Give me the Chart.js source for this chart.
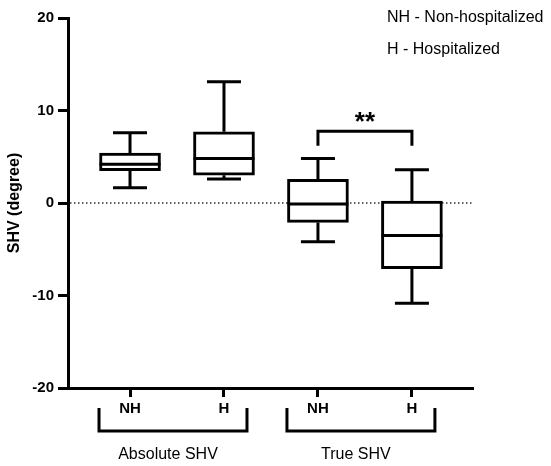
<!DOCTYPE html>
<html>
<head>
<meta charset="utf-8">
<script src="https://cdn.jsdelivr.net/npm/chart.js@4"></script>
<style>
  body { margin: 0; background: #fff; }
  #wrap { width: 551px; height: 466px; }
</style>
</head>
<body>
<div id="wrap"><canvas id="chart" width="551" height="466"></canvas></div>
<script>
// datos
const categories = ['NH', 'H', 'NH', 'H'];
const whiskerLow = [1.65, 2.6, -4.2, -10.85];
const q1 = [3.5, 3.0, -2.1, -7.1];
const medians = [4.2, 4.8, -0.1, -3.5];
const q3 = [5.4, 7.7, 2.55, 0.2];
const whiskerHigh = [7.6, 13.1, 4.8, 3.6];

const groupNames = ['Absolute SHV', 'True SHV'];
const groupStart = [0, 2];
const groupEnd = [1, 3];

const yTicks = [-20, -10, 0, 10, 20];

const sigPair = [2, 3];
const sigLabel = '**';
const sigTop = 7.75;
const sigDrop = 6.2;

const legendLines = ['NH - Non-hospitalized', 'H - Hospitalized'];

const FONT = "'Liberation Sans', Arial, sans-serif";

const boxData = categories.map((c, i) => ({ x: i, y: [q1[i], q3[i]] }));

// linea punteada en cero
const zeroLine = {
  id: 'zeroLine',
  beforeDatasetsDraw(chart) {
    const ctx = chart.ctx;
    const y = chart.scales.y.getPixelForValue(0);
    const area = chart.chartArea;
    ctx.save();
    ctx.strokeStyle = '#333';
    ctx.lineWidth = 1.5;
    ctx.setLineDash([1.5, 2.5]);
    ctx.beginPath();
    ctx.moveTo(area.left + 2, y);
    ctx.lineTo(area.right, y);
    ctx.stroke();
    ctx.restore();
  }
};

// bigotes y medianas
const whiskers = {
  id: 'whiskers',
  afterDatasetsDraw(chart) {
    const ctx = chart.ctx;
    const xs = chart.scales.x;
    const ys = chart.scales.y;
    const bars = chart.getDatasetMeta(0).data;
    ctx.save();
    ctx.strokeStyle = '#000';
    ctx.lineWidth = 3;
    ctx.lineCap = 'butt';
    categories.forEach((c, i) => {
      const cx = xs.getPixelForValue(i);
      const half = bars[i].width / 2;
      const cap = 17;
      const yHi = ys.getPixelForValue(whiskerHigh[i]);
      const yLo = ys.getPixelForValue(whiskerLow[i]);
      const yQ3 = ys.getPixelForValue(q3[i]);
      const yQ1 = ys.getPixelForValue(q1[i]);
      const yMed = ys.getPixelForValue(medians[i]);
      ctx.beginPath();
      ctx.moveTo(cx, yQ3); ctx.lineTo(cx, yHi);
      ctx.moveTo(cx - cap, yHi); ctx.lineTo(cx + cap, yHi);
      ctx.moveTo(cx, yQ1); ctx.lineTo(cx, yLo);
      ctx.moveTo(cx - cap, yLo); ctx.lineTo(cx + cap, yLo);
      ctx.moveTo(cx - half, yMed); ctx.lineTo(cx + half, yMed);
      ctx.stroke();
    });

    // corchete de significancia
    const x1 = xs.getPixelForValue(sigPair[0]);
    const x2 = xs.getPixelForValue(sigPair[1]);
    const yt = ys.getPixelForValue(sigTop);
    const yd = ys.getPixelForValue(sigDrop);
    ctx.beginPath();
    ctx.moveTo(x1, yd); ctx.lineTo(x1, yt); ctx.lineTo(x2, yt); ctx.lineTo(x2, yd);
    ctx.stroke();
    ctx.fillStyle = '#000';
    ctx.font = 'bold 26px ' + FONT;
    ctx.textAlign = 'center';
    ctx.textBaseline = 'alphabetic';
    ctx.fillText(sigLabel, (x1 + x2) / 2, yt - 1);
    ctx.restore();
  }
};

// grupos bajo el eje x y leyenda de texto
const groupsAndNotes = {
  id: 'groupsAndNotes',
  afterDraw(chart) {
    const ctx = chart.ctx;
    const xs = chart.scales.x;
    ctx.save();
    ctx.strokeStyle = '#000';
    ctx.fillStyle = '#000';
    ctx.lineWidth = 3;
    groupNames.forEach((name, g) => {
      const left = xs.getPixelForValue(groupStart[g]) - 31;
      const right = xs.getPixelForValue(groupEnd[g]) + 23;
      ctx.beginPath();
      ctx.moveTo(left, 408); ctx.lineTo(left, 431);
      ctx.lineTo(right, 431); ctx.lineTo(right, 408);
      ctx.stroke();
      ctx.font = '16px ' + FONT;
      ctx.textAlign = 'center';
      ctx.textBaseline = 'middle';
      ctx.fillText(name, (left + right) / 2 - 5, 455);
    });
    ctx.font = '16px ' + FONT;
    ctx.textAlign = 'left';
    ctx.textBaseline = 'middle';
    legendLines.forEach((t, k) => {
      ctx.fillText(t, 387, 18 + k * 32);
    });
    ctx.restore();
  }
};

new Chart(document.getElementById('chart').getContext('2d'), {
  type: 'bar',
  data: {
    datasets: [{
      data: boxData,
      backgroundColor: '#fff',
      borderColor: '#000',
      borderWidth: 3,
      borderSkipped: false,
      barThickness: 61
    }]
  },
  options: {
    responsive: false,
    animation: false,
    layout: { padding: { top: 18, right: 78, left: 0, bottom: 0 } },
    plugins: {
      legend: { display: false },
      tooltip: { enabled: false }
    },
    scales: {
      x: {
        type: 'linear',
        offset: false,
        min: -0.66,
        max: 3.65,
        afterBuildTicks: (scale) => {
          scale.ticks = categories.map((c, i) => ({ value: i }));
        },
        afterFit: (scale) => { scale.height = 78; },
        ticks: {
          callback: (v) => categories[v],
          font: { family: FONT, size: 15, weight: 'bold' },
          color: '#000',
          padding: 3,
          maxRotation: 0,
          autoSkip: false
        },
        grid: {
          offset: false,
          drawOnChartArea: false,
          drawTicks: true,
          tickLength: 9,
          tickWidth: 3,
          tickColor: '#000'
        },
        border: { display: true, color: '#000', width: 3 }
      },
      y: {
        min: -20,
        max: 20,
        afterBuildTicks: (scale) => {
          scale.ticks = yTicks.map((v) => ({ value: v }));
        },
        afterFit: (scale) => { scale.width = 68; },
        ticks: {
          font: { family: FONT, size: 15, weight: 'bold' },
          color: '#000',
          padding: 4
        },
        grid: {
          drawOnChartArea: false,
          drawTicks: true,
          tickLength: 10,
          tickWidth: 3,
          tickColor: '#000'
        },
        border: { display: true, color: '#000', width: 3 },
        title: {
          display: true,
          text: 'SHV (degree)',
          font: { family: FONT, size: 16, weight: 'bold' },
          color: '#000',
          padding: { top: 5, bottom: 0 }
        }
      }
    }
  },
  plugins: [zeroLine, whiskers, groupsAndNotes]
});
</script>
</body>
</html>
